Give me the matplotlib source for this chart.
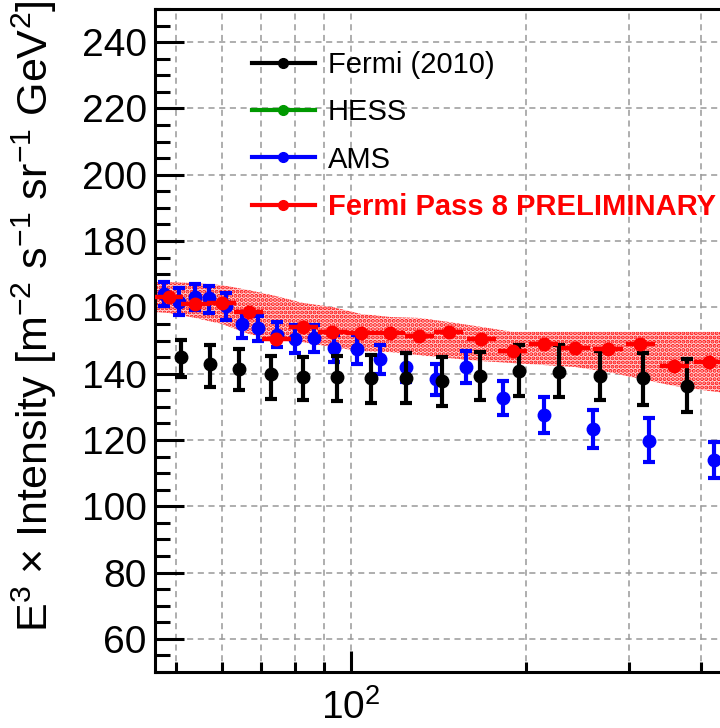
import numpy as np
import matplotlib
matplotlib.use('Agg')
import matplotlib.pyplot as plt
from matplotlib.lines import Line2D
from matplotlib.ticker import MultipleLocator, LogLocator, NullFormatter

plt.rcParams['font.family'] = ['Liberation Sans', 'DejaVu Sans']
plt.rcParams['mathtext.fontset'] = 'custom'
plt.rcParams['mathtext.rm'] = 'Liberation Sans'
plt.rcParams['mathtext.it'] = 'Liberation Sans:italic'
plt.rcParams['hatch.linewidth'] = 2.0

# Fermi (2010): energy (GeV), value, lower / upper edge of error bar
fermi10_e = [50.9, 57.2, 64.2, 72.8, 82.8, 94.5, 108.4, 124.2, 143.4, 166.7,
             194.6, 227.4, 267.6, 317.2, 378.2]
fermi10_y = [145.1, 142.9, 141.5, 139.8, 138.9, 138.9, 138.8, 138.8, 137.7,
             139.4, 140.9, 140.4, 139.3, 138.6, 136.4]
fermi10_lo = [139.1, 136.0, 135.1, 132.4, 132.1, 131.8, 131.1, 131.2, 130.1,
              132.1, 133.4, 132.9, 132.1, 130.5, 128.5]
fermi10_hi = [150.1, 148.6, 147.4, 145.3, 145.1, 145.3, 145.6, 146.2, 145.0,
              146.6, 148.6, 148.6, 146.8, 146.3, 144.4]

# AMS
ams_e = [47.6, 50.6, 53.9, 57.0, 60.9, 64.8, 69.3, 74.5, 80.1, 86.4, 93.6,
         102.3, 112.2, 124.2, 139.7, 157.7, 182.2, 215.1, 260.3, 324.9, 420.3]
ams_y = [164.0, 161.7, 163.2, 162.7, 160.4, 155.0, 153.7, 151.7, 150.4, 150.7,
         147.8, 147.4, 144.3, 141.9, 138.4, 142.1, 132.6, 127.5, 123.2, 119.8,
         114.0]
ams_lo = [160.4, 157.7, 159.2, 158.4, 156.2, 150.7, 149.8, 147.9, 146.1, 146.6,
          143.6, 142.8, 139.9, 137.6, 133.6, 137.3, 127.5, 122.2, 117.5, 113.2,
          108.5]
ams_hi = [167.7, 165.7, 167.0, 166.4, 164.2, 158.7, 157.5, 155.7, 154.7, 154.7,
          151.7, 151.7, 148.6, 146.1, 142.9, 146.8, 137.8, 132.9, 129.0, 126.5,
          119.5]

# Fermi Pass 8 (bin centres, value)
p8_e = [48.6, 54.0, 59.9, 66.7, 74.3, 82.8, 92.9, 104.0, 116.7, 131.1, 147.1,
        167.4, 189.5, 214.3, 243.0, 276.6, 314.4, 359.7, 412.1]
p8_y = [163.2, 161.0, 161.2, 158.5, 150.4, 154.0, 152.6, 152.3, 152.3, 151.3,
        152.6, 150.4, 146.8, 149.0, 147.8, 147.3, 148.8, 142.4, 143.6]
bin_dex = 0.05  # bin width in log10(E)

# systematic band of Pass 8
band_e = [46.0, 48.6, 54.0, 59.9, 66.7, 74.3, 82.8, 92.9, 104.0, 116.7, 131.1,
          147.1, 167.4, 189.5, 214.3, 243.0, 276.6, 314.4, 359.7, 412.1, 440.0]
band_hi = [167.6, 167.6, 167.3, 166.7, 165.2, 163.4, 161.3, 160.1, 158.0, 157.1,
           156.8, 155.6, 154.1, 152.6, 152.6, 152.6, 152.6, 152.6, 152.6, 152.6,
           152.6]
band_lo = [158.6, 158.3, 156.8, 155.0, 152.0, 150.1, 149.5, 148.0, 146.8, 146.5,
           145.6, 144.7, 143.8, 143.2, 142.6, 142.0, 140.5, 138.4, 136.3, 134.8,
           134.2]

fig = plt.figure(figsize=(7.2, 7.28), dpi=100)
ax = fig.add_axes([155/720, 56/728, 1 - 155/720, 663/728])

ax.fill_between(band_e, band_lo, band_hi, facecolor='#ffd8d8', edgecolor='#ff1010',
                hatch='....', linewidth=0, zorder=1)

y = np.array(ams_y)
ax.errorbar(ams_e, y, yerr=[y - np.array(ams_lo), np.array(ams_hi) - y],
            fmt='o', color='#0000ff', ms=9, elinewidth=3, capsize=4.5,
            capthick=3, zorder=3)

y = np.array(fermi10_y)
ax.errorbar(fermi10_e, y, yerr=[y - np.array(fermi10_lo), np.array(fermi10_hi) - y],
            fmt='o', color='black', ms=9, elinewidth=3, capsize=4.5,
            capthick=3, zorder=4)

e = np.array(p8_e)
ax.errorbar(e, p8_y, xerr=[e - e * 10**(-bin_dex / 2), e * 10**(bin_dex / 2) - e],
            fmt='o', color='#ff0000', ms=9, elinewidth=3.2, capsize=0, zorder=5)

ax.set_xscale('log')
ax.set_xlim(46, 431)
ax.set_ylim(50, 250)
ax.set_yticks(np.arange(60, 241, 20))
ax.yaxis.set_minor_locator(MultipleLocator(5))
ax.xaxis.set_minor_locator(LogLocator(base=10, subs=np.arange(2, 10)))
ax.xaxis.set_minor_formatter(NullFormatter())

ax.tick_params(axis='y', which='major', direction='in', length=21, width=2.2,
               labelsize=28, pad=6)
ax.tick_params(axis='y', which='minor', direction='in', length=11, width=2.2)
ax.tick_params(axis='x', which='major', direction='in', length=15, width=2.2,
               labelsize=28, pad=12)
ax.tick_params(axis='x', which='minor', direction='in', length=7.5, width=2.2)

for s in ['left', 'bottom', 'top']:
    ax.spines[s].set_linewidth(2.2)
ax.spines['right'].set_visible(False)

ax.grid(True, which='major', axis='y', color='#999999', ls=(0, (4, 3)), lw=1.1)
ax.grid(True, which='both', axis='x', color='#999999', ls=(0, (4, 3)), lw=1.1)
ax.set_axisbelow(True)

ax.set_ylabel(r'E$^{3}$ $\times$ Intensity [m$^{-2}$ s$^{-1}$ sr$^{-1}$ GeV$^{2}$]',
              fontsize=31)
ax.yaxis.set_label_coords(-0.17, 0.537)

handles = [Line2D([], [], color='black', marker='o', ms=7, lw=3),
           Line2D([], [], color='#009900', marker='o', ms=7, lw=3),
           Line2D([], [], color='#0000ff', marker='o', ms=7, lw=3),
           Line2D([], [], color='#ff0000', marker='o', ms=7, lw=3)]
labels = ['Fermi (2010)', 'HESS', 'AMS', 'Fermi Pass 8 PRELIMINARY']
leg = ax.legend(handles, labels, loc='upper left', bbox_to_anchor=(252/720, 1 - 51/728),
                bbox_transform=fig.transFigure, frameon=False, fontsize=21,
                handlelength=2.15, handletextpad=0.45, labelspacing=0.66,
                borderpad=0, borderaxespad=0)
last = leg.get_texts()[-1]
last.set_color('#ff0000')
last.set_fontweight('bold')

fig.savefig('out.png', dpi=100)
